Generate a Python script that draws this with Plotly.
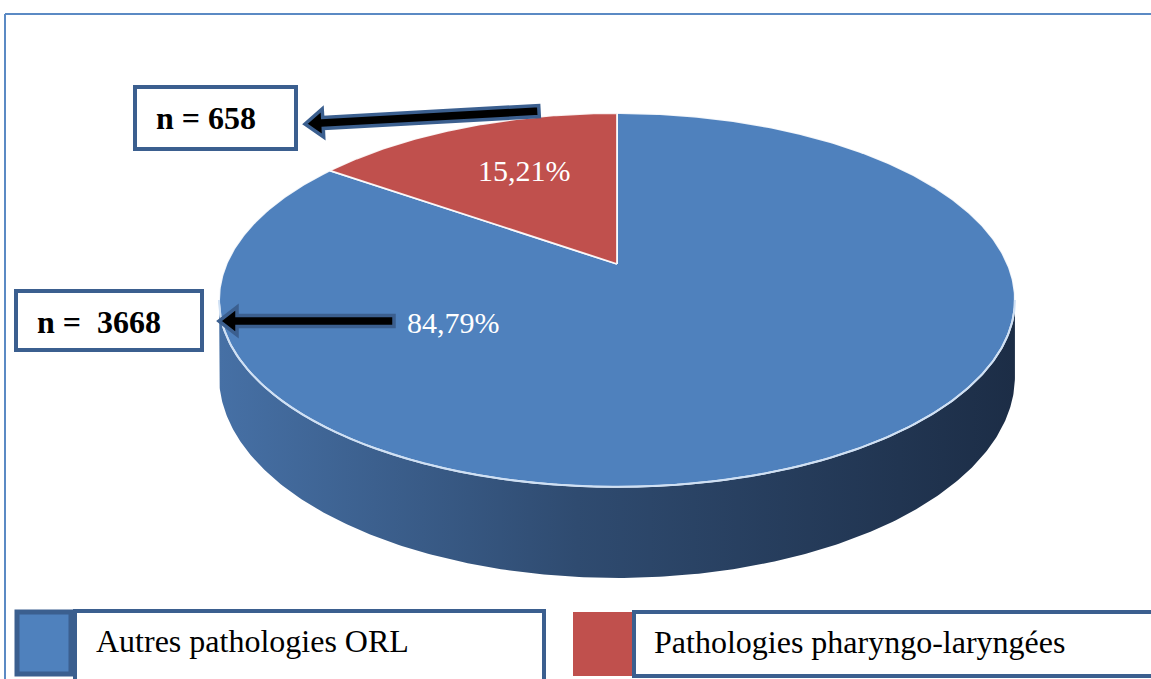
import numpy as np
import plotly.graph_objects as go

# ---------------- data ----------------
categories = ["Autres pathologies ORL", "Pathologies pharyngo-laryngées"]
counts = [3668, 658]
slice_colors = ["#4f81bd", "#c0504d"]
count_labels = ["n =\u00a0\u00a03668", "n = 658"]

total = sum(counts)
shares = [c / total for c in counts]
pct_text = [f"{s * 100:.2f}%".replace(".", ",") for s in shares]

# ---------------- 3D pie projection (pixel space) ----------------
W, H = 1151, 679
CX, CY = 617.0, 264.0      # projected centre of the disk
SX, SY = 390.5, 180.0      # horizontal / vertical radii factors
K = 0.1925                 # perspective strength
T = 73.5                   # thickness of the disk


def proj(phi_deg, r=1.0, drop=0.0):
    phi = np.radians(np.asarray(phi_deg, dtype=float))
    den = 1 + K * r * np.cos(phi)
    x = CX + SX * r * np.sin(phi) / den
    y = CY - SY * r * np.cos(phi) / den + drop / den
    return x, y


fig = go.Figure()

# side of the cylinder (visible front part)
phi_edge = np.degrees(np.arccos(-K))
ph = np.linspace(phi_edge, 360 - phi_edge, 300)
tx, ty = proj(ph)
bx, by = proj(ph, drop=T)
fig.add_trace(go.Scatter(
    x=np.concatenate([tx, bx[::-1], tx[:1]]),
    y=np.concatenate([ty, by[::-1], ty[:1]]),
    mode="lines", fill="toself", line=dict(width=0, color="rgba(0,0,0,0)"),
    fillgradient=dict(type="horizontal",
                      colorscale=[[0, "rgb(70,112,165)"], [0.45, "rgb(47,75,112)"],
                                  [1, "rgb(28,45,70)"]]),
    hoverinfo="skip", showlegend=False))

# top face slices, clockwise from 12 o'clock
start = 0.0
for cat, s, col in zip(categories, shares, slice_colors):
    end = start + 360 * s
    a = np.linspace(start, end, max(int(abs(end - start) * 2), 20))
    ax_, ay_ = proj(a)
    fig.add_trace(go.Scatter(
        x=np.concatenate([[CX], ax_, [CX]]),
        y=np.concatenate([[CY], ay_, [CY]]),
        mode="lines", fill="toself", fillcolor=col,
        line=dict(color="rgba(255,255,255,0.9)", width=1.8),
        name=cat, hoverinfo="name", showlegend=False))
    start = end

# light rim along the front edge of the top face
fig.add_trace(go.Scatter(x=tx, y=ty, mode="lines",
                         line=dict(color="#cfe0f4", width=2),
                         hoverinfo="skip", showlegend=False))

# ---------------- decorations ----------------
BORDER = "#3b5f8f"
shapes = []
# outer frame (top + left)
shapes.append(dict(type="line", x0=5, x1=W + 5, y0=14, y1=14,
                   line=dict(color="#5b8ac4", width=2)))
shapes.append(dict(type="line", x0=5, x1=5, y0=14, y1=H + 5,
                   line=dict(color="#5b8ac4", width=2)))

# count boxes
shapes.append(dict(type="rect", x0=135, x1=296, y0=87, y1=149,
                   line=dict(color=BORDER, width=4), fillcolor="white"))
shapes.append(dict(type="rect", x0=16, x1=202, y0=291, y1=350,
                   line=dict(color=BORDER, width=4), fillcolor="white"))


def arrow_path(tip, tail, half_shaft, head_len, half_head):
    tip = np.array(tip, float)
    tail = np.array(tail, float)
    d = tail - tip
    d /= np.hypot(*d)
    n = np.array([-d[1], d[0]])
    hb = tip + d * head_len
    pts = [tip, hb + n * half_head, hb + n * half_shaft, tail + n * half_shaft,
           tail - n * half_shaft, hb - n * half_shaft, hb - n * half_head]
    return "M " + " L ".join(f"{p[0]:.1f},{p[1]:.1f}" for p in pts) + " Z"


for tip, tail in [((305, 124), (539, 111)), ((219, 321), (394, 321))]:
    shapes.append(dict(type="path", path=arrow_path(tip, tail, 5.5, 18, 14),
                       fillcolor="black", line=dict(color=BORDER, width=3.5)))

# legend
shapes.append(dict(type="rect", x0=17, x1=71, y0=612, y1=674,
                   fillcolor=slice_colors[0], line=dict(color=BORDER, width=5)))
shapes.append(dict(type="rect", x0=75, x1=544, y0=611, y1=695,
                   fillcolor="white", line=dict(color=BORDER, width=4)))
shapes.append(dict(type="rect", x0=573, x1=633, y0=612, y1=676,
                   fillcolor=slice_colors[1], line=dict(width=0)))
shapes.append(dict(type="rect", x0=634, x1=W + 20, y0=612, y1=676,
                   fillcolor="white", line=dict(color=BORDER, width=4)))

SERIF = "Liberation Serif, Times New Roman, serif"
ann = []
# percentage labels
ann.append(dict(x=453, y=322, text=pct_text[0], showarrow=False,
                font=dict(family=SERIF, size=30, color="white")))
ann.append(dict(x=524, y=170, text=pct_text[1], showarrow=False,
                font=dict(family=SERIF, size=30, color="white")))
# count labels
ann.append(dict(x=35, y=322, text=f"<b>{count_labels[0]}</b>", showarrow=False,
                xanchor="left", font=dict(family=SERIF, size=32, color="black")))
ann.append(dict(x=154, y=118, text=f"<b>{count_labels[1]}</b>", showarrow=False,
                xanchor="left", font=dict(family=SERIF, size=32, color="black")))
# legend labels
ann.append(dict(x=94, y=641, text=categories[0], showarrow=False, xanchor="left",
                font=dict(family=SERIF, size=32, color="black")))
ann.append(dict(x=652, y=642, text=categories[1], showarrow=False, xanchor="left",
                font=dict(family=SERIF, size=32, color="black")))
for a in ann:
    a.update(xref="x", yref="y")
for s in shapes:
    s.update(xref="x", yref="y", layer="above")

fig.update_layout(
    width=W, height=H, autosize=False,
    margin=dict(l=0, r=0, t=0, b=0),
    paper_bgcolor="white", plot_bgcolor="white",
    xaxis=dict(range=[0, W], visible=False, fixedrange=True),
    yaxis=dict(range=[H, 0], visible=False, fixedrange=True),
    shapes=shapes, annotations=ann, showlegend=False,
)

fig.write_html("out.html", config={"displayModeBar": False},
               post_script="document.body.style.margin='0';document.body.style.overflow='hidden';")
